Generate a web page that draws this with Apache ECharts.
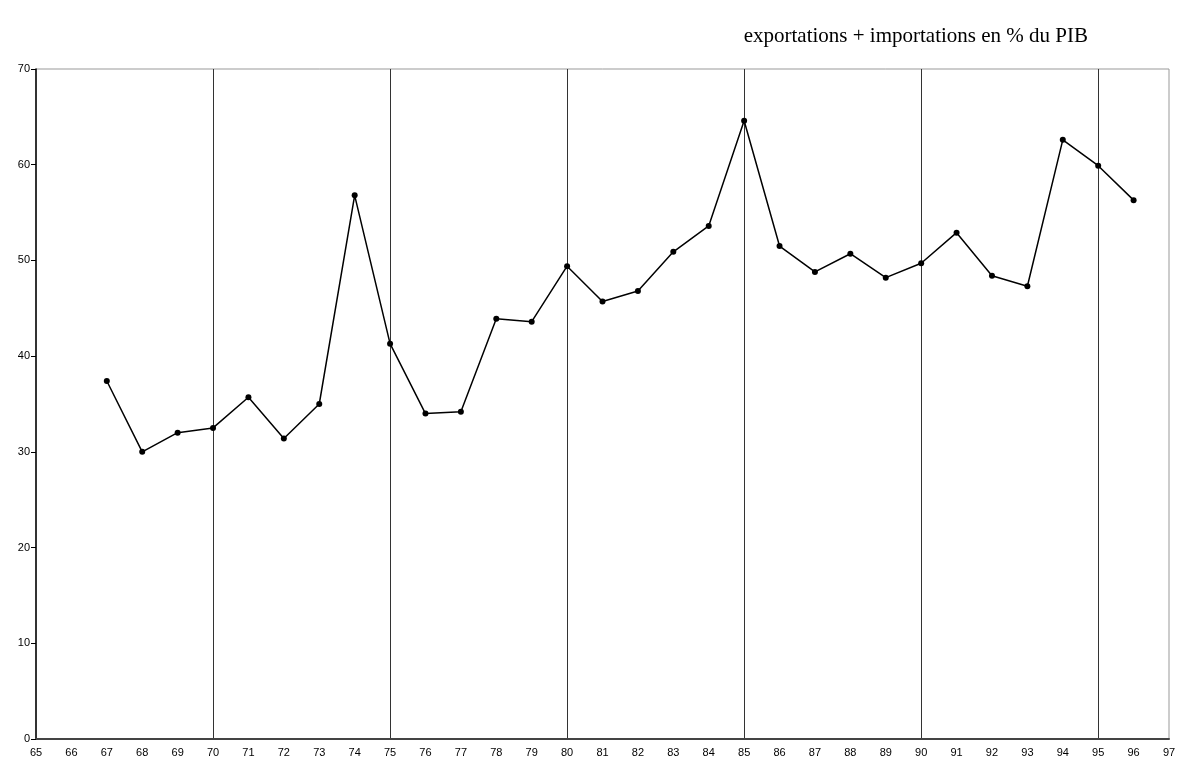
<!DOCTYPE html>
<html>
<head>
<meta charset="utf-8">
<script src="https://cdn.jsdelivr.net/npm/echarts@6/dist/echarts.min.js"></script>
<style>html,body{margin:0;padding:0;background:#fff;}#c{width:1179px;height:764px;}</style>
</head>
<body>
<div id="c"></div>
<script>
const titleText = 'exportations + importations en % du PIB';
const years = ['65','66','67','68','69','70','71','72','73','74','75','76','77','78','79','80','81','82','83','84','85','86','87','88','89','90','91','92','93','94','95','96','97'];
const values = [null, null, 37.4, 30.0, 32.0, 32.5, 35.7, 31.4, 35.0, 56.8, 41.3, 34.0, 34.2, 43.9, 43.6, 49.4, 45.7, 46.8, 50.9, 53.6, 64.6, 51.5, 48.8, 50.7, 48.2, 49.7, 52.9, 48.4, 47.3, 62.6, 59.9, 56.3, null];
const yMin = 0, yMax = 70, yStep = 10;

const chart = echarts.init(document.getElementById('c'));
chart.setOption({
  animation: false,
  backgroundColor: '#fff',
  title: {
    text: titleText,
    right: 86, top: 21,
    textStyle: { fontFamily: 'Liberation Serif', fontWeight: 'normal', fontSize: 21, color: '#000' }
  },
  grid: { left: 36, right: 10, top: 69, bottom: 25, show: true, borderColor: '#999', borderWidth: 1 },
  xAxis: {
    type: 'category', data: years, boundaryGap: false,
    axisLine: { lineStyle: { color: '#444', width: 2 } },
    axisTick: { show: false },
    axisLabel: { color: '#000', fontFamily: 'Liberation Sans', fontSize: 11, margin: 8, interval: 0 },
    splitLine: { show: true, interval: (i) => i % 5 === 0 && i > 0, lineStyle: { color: '#333', width: 1 } }
  },
  yAxis: {
    type: 'value', min: yMin, max: yMax, interval: yStep,
    axisLine: { show: true, lineStyle: { color: '#000', width: 1.5 } },
    axisTick: { show: true, length: 5, lineStyle: { color: '#000' } },
    axisLabel: { color: '#000', fontFamily: 'Liberation Sans', fontSize: 11, margin: 6 },
    splitLine: { show: false }
  },
  series: [{
    type: 'line', data: values, connectNulls: false,
    symbol: 'circle', symbolSize: 6, showSymbol: true,
    lineStyle: { color: '#000', width: 1.5 },
    itemStyle: { color: '#000' }
  }]
});
</script>
</body>
</html>
